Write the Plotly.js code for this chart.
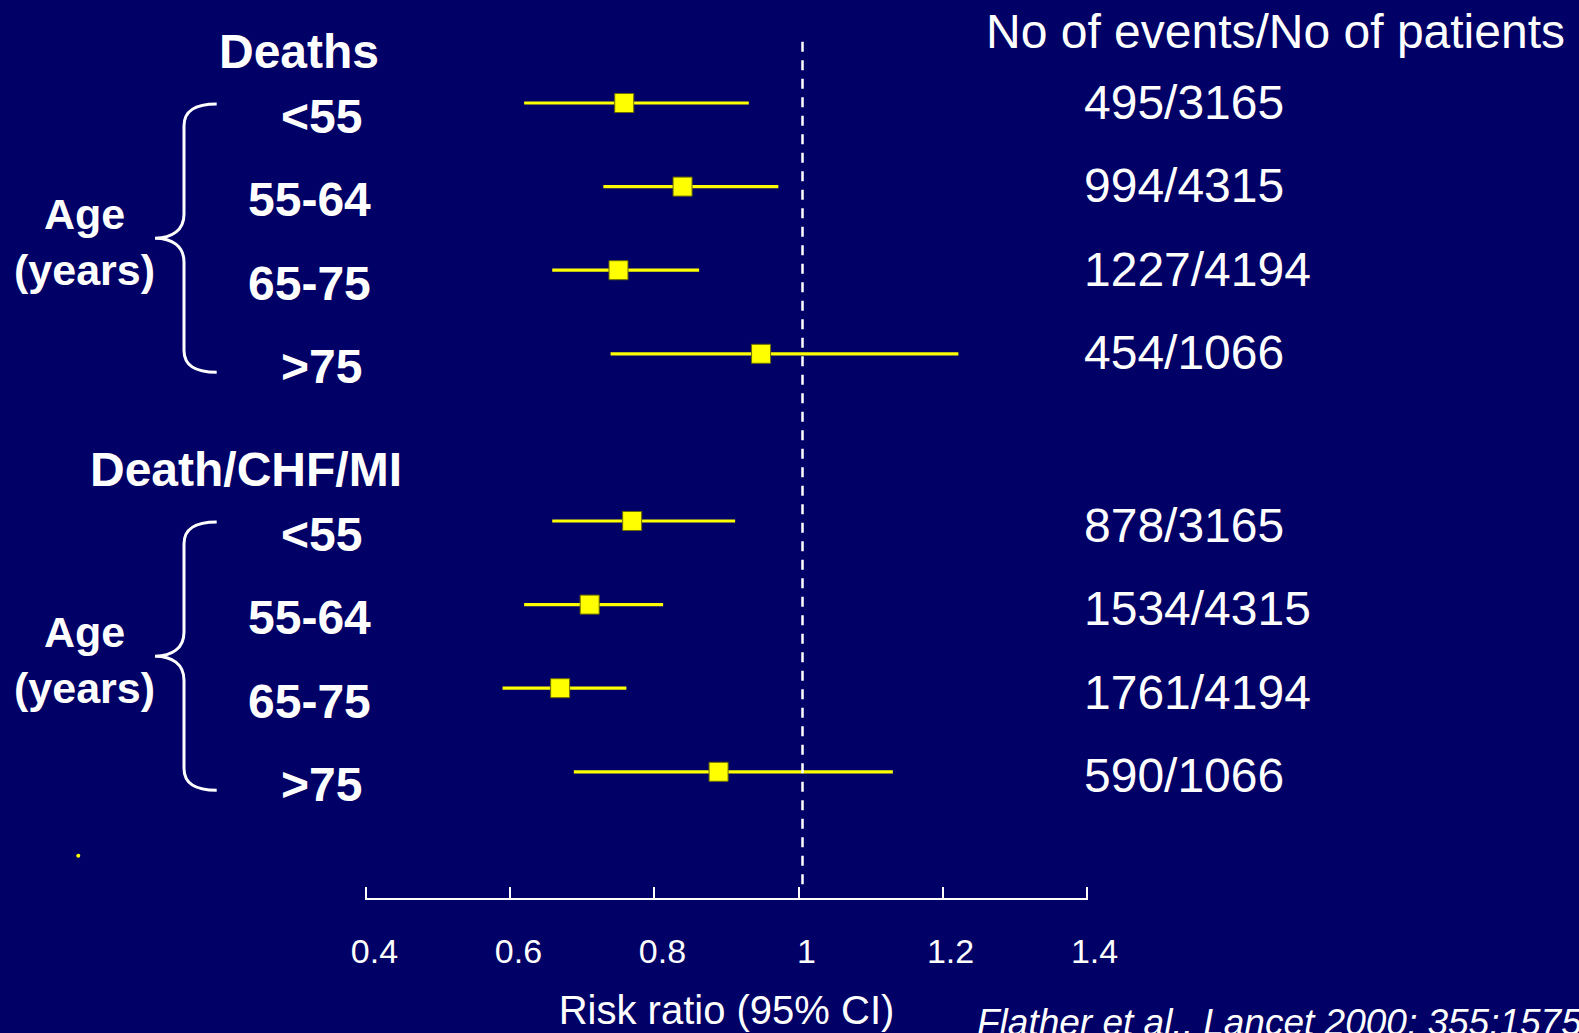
<!DOCTYPE html>
<html>
<head>
<meta charset="utf-8">
<script src="https://cdn.plot.ly/plotly-3.0.1.min.js"></script>
<style>
  html, body { margin: 0; padding: 0; background: #000066; }
  #chart { width: 1579px; height: 1033px; }
</style>
</head>
<body>
<div id="chart"></div>
<script>
// ---------------- data ----------------
const groups = ['Deaths', 'Death/CHF/MI'];
const ageBands = ['<55', '55-64', '65-75', '>75'];

const deathsRR = [0.758, 0.839, 0.750, 0.948];
const deathsLow = [0.619, 0.729, 0.658, 0.739];
const deathsHigh = [0.931, 0.972, 0.862, 1.222];
const deathsCounts = ['495/3165', '994/4315', '1227/4194', '454/1066'];

const compositeRR = [0.769, 0.710, 0.669, 0.889];
const compositeLow = [0.658, 0.619, 0.589, 0.688];
const compositeHigh = [0.912, 0.812, 0.761, 1.131];
const compositeCounts = ['878/3165', '1534/4315', '1761/4194', '590/1066'];

const xTicks = [0.4, 0.6, 0.8, 1, 1.2, 1.4];
const xTickText = ['0.4', '0.6', '0.8', '1', '1.2', '1.4'];
const referenceValue = 1;

const columnHeader = 'No of events/No of patients';
const xAxisTitle = 'Risk ratio (95% CI)';
const groupLabel = 'Age<br>(years)';
const citation = 'Flather et al., Lancet 2000; 355:1575';

// ---------------- layout helpers ----------------
const W = 1579, H = 1033;
const X_RANGE = [0.398, 1.402];
const M = { l: 365, r: 491, t: 0, b: 135 };
const PW = W - M.l - M.r;   // 723
const PH = H - M.t - M.b;   // 898
const ROW0_PX = 103, ROW_PX = 83.6;       // pixel of row 0, pixels per row
const yTop = (0 - ROW0_PX) / ROW_PX;
const yBot = (PH - ROW0_PX) / ROW_PX;
const px2x = px => (px - M.l) / PW;
const py2y = py => (PH - py) / PH;
const rowPx = r => ROW0_PX + ROW_PX * r;
const pxPerUnit = PW / (X_RANGE[1] - X_RANGE[0]);

const FONT = 'Liberation Sans, Arial, Helvetica, sans-serif';
const WHITE = '#ffffff';
const YELLOW = '#ffff00';

const series = [
  { rr: deathsRR, lo: deathsLow, hi: deathsHigh, counts: deathsCounts },
  { rr: compositeRR, lo: compositeLow, hi: compositeHigh, counts: compositeCounts }
];

const traces = [];
const annotations = [];
const shapes = [];

series.forEach((s, g) => {
  const start = g * 5;
  const ys = s.rr.map((_, i) => start + i);
  traces.push({
    type: 'scatter',
    mode: 'markers',
    x: s.rr,
    y: ys,
    name: groups[g],
    showlegend: false,
    hoverinfo: 'x',
    marker: { symbol: 'square', size: 19, color: YELLOW, line: { color: '#6b6b00', width: 1 } },
    error_x: {
      type: 'data',
      symmetric: false,
      array: s.hi.map((h, i) => h - s.rr[i]),
      arrayminus: s.lo.map((l, i) => s.rr[i] - l),
      color: YELLOW,
      thickness: 3.2,
      width: 0
    }
  });

  // group header
  const headerCenterPx = [299, 246];
  annotations.push({
    xref: 'paper', yref: 'y', x: px2x(headerCenterPx[g]), y: start - 0.615,
    xanchor: 'center', yanchor: 'middle', showarrow: false,
    text: '<b>' + groups[g] + '</b>',
    font: { family: FONT, size: 48, color: WHITE }
  });

  // age band labels
  ageBands.forEach((lab, i) => {
    annotations.push({
      xref: 'paper', yref: 'y', x: px2x(lab.length > 3 ? 245.5 : 278.5), y: start + i,
      xanchor: 'left', yanchor: 'middle', yshift: -13, showarrow: false,
      text: '<b>' + lab + '</b>',
      font: { family: FONT, size: 48, color: WHITE }
    });
  });

  // counts column
  s.counts.forEach((c, i) => {
    annotations.push({
      xref: 'paper', yref: 'y', x: px2x(1082), y: start + i,
      xanchor: 'left', yanchor: 'middle', yshift: g === 0 ? 1 : -4, showarrow: false,
      text: c,
      font: { family: FONT, size: 48, color: WHITE }
    });
  });

  // "Age (years)" label
  annotations.push({
    xref: 'paper', yref: 'y', x: px2x(84), y: start + 1.5,
    xanchor: 'center', yanchor: 'middle', yshift: -14, showarrow: false,
    align: 'center',
    text: '<b>' + groupLabel + '</b>',
    font: { family: FONT, size: 43, color: WHITE }
  });

  // curly brace
  const top = rowPx(start) + 1;
  const bot = rowPx(start + 3) + 18.5;
  const mid = (top + bot) / 2;
  const P = (px, py) => px2x(px).toFixed(5) + ',' + py2y(py).toFixed(5);
  const path =
    'M' + P(216.7, top) +
    ' C' + P(196, top) + ' ' + P(184, top + 6) + ' ' + P(184, top + 22) +
    ' L' + P(184, mid - 24) +
    ' C' + P(184, mid - 8) + ' ' + P(172, mid) + ' ' + P(155, mid) +
    ' C' + P(172, mid) + ' ' + P(184, mid + 8) + ' ' + P(184, mid + 24) +
    ' L' + P(184, bot - 22) +
    ' C' + P(184, bot - 6) + ' ' + P(196, bot) + ' ' + P(216.7, bot);
  shapes.push({
    type: 'path', xref: 'paper', yref: 'paper', path: path,
    line: { color: WHITE, width: 3 }, fillcolor: 'rgba(0,0,0,0)'
  });
});

// column header
annotations.push({
  xref: 'paper', yref: 'paper', x: px2x(984), y: py2y(31),
  xanchor: 'left', yanchor: 'middle', showarrow: false,
  text: columnHeader,
  font: { family: FONT, size: 48, color: WHITE }
});

// citation
annotations.push({
  xref: 'paper', yref: 'paper', x: px2x(975), y: py2y(1022),
  xanchor: 'left', yanchor: 'middle', showarrow: false,
  text: '<i>' + citation + '</i>',
  font: { family: FONT, size: 37, color: WHITE }
});

// reference dashed line at RR = 1 (drawn a few pixels right of the tick, as in the original)
const refX = referenceValue + 4 / pxPerUnit;
shapes.push({
  type: 'line', xref: 'x', yref: 'paper',
  x0: refX, x1: refX, y0: py2y(41.7), y1: py2y(889),
  line: { color: WHITE, width: 2.5, dash: '10px,8.5px' }
});

// stray yellow dot from original slide
shapes.push({
  type: 'circle', xref: 'paper', yref: 'paper',
  x0: px2x(76.3), x1: px2x(80.3), y0: py2y(857.7), y1: py2y(853.7),
  fillcolor: YELLOW, line: { width: 0 }
});

const layout = {
  width: W, height: H,
  margin: M,
  paper_bgcolor: '#000066',
  plot_bgcolor: '#000066',
  showlegend: false,
  font: { family: FONT, color: WHITE },
  xaxis: {
    range: X_RANGE,
    tickmode: 'array',
    tickvals: xTicks,
    ticktext: xTickText,
    showgrid: false,
    zeroline: false,
    showline: true,
    linecolor: WHITE,
    linewidth: 2,
    ticks: 'inside',
    ticklen: 11,
    tickwidth: 2,
    tickcolor: WHITE,
    tickfont: { family: FONT, size: 34, color: WHITE },
    ticklabelstandoff: 22,
    ticklabelshift: 8,
    fixedrange: true,
    title: { text: xAxisTitle, font: { family: FONT, size: 40, color: WHITE }, standoff: 27 },
    automargin: false
  },
  yaxis: {
    range: [yBot, yTop],
    visible: false,
    showgrid: false,
    zeroline: false,
    fixedrange: true
  },
  annotations: annotations,
  shapes: shapes
};

Plotly.newPlot('chart', traces, layout, { displayModeBar: false, staticPlot: true });
</script>
</body>
</html>
